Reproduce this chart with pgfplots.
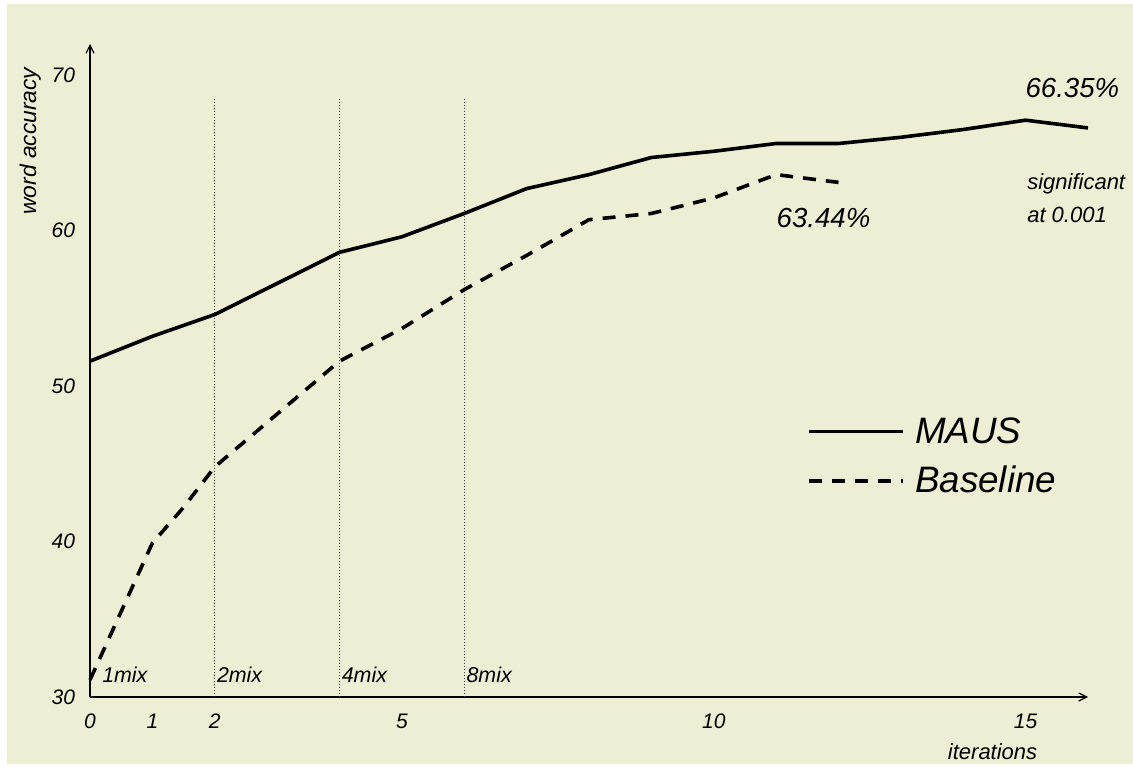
\documentclass[border=0pt]{standalone}
\usepackage{pgfplots}
\pgfplotsset{compat=1.18}
\usetikzlibrary{arrows.meta}
\usepackage{fontspec}
\setmainfont{Liberation Sans}
\definecolor{bg}{RGB}{238,238,213}
\begin{document}
\begin{tikzpicture}
\fill[white] (0,0) rectangle (566.5pt,382pt);
\fill[bg] (3.5pt,0) rectangle (566.5pt,380pt);
\begin{axis}[
  at={(45pt,33.5pt)}, anchor=south west,
  scale only axis, width=499pt, height=326.5pt,
  xmin=0, xmax=16, ymin=30, ymax=72,
  axis x line=bottom, axis y line=left,
  axis line style={line width=0.6pt, -{Straight Barb[length=4pt,width=4pt]}},
  xtick={0,1,2,5,10,15}, ytick={30,40,50,60,70},
  major tick length=0pt,
  tick label style={font=\fontsize{10.5}{12}\selectfont\itshape},
  /pgf/number format/assume math mode=true,
  xticklabel style={yshift=-5pt},
  yticklabel style={xshift=-4pt},
  clip=false,
  legend style={at={(axis cs:11.4,48.4)}, anchor=north west, draw=none, fill=none,
    font=\fontsize{18.4}{22}\selectfont\itshape, row sep=8pt, column sep=4pt,
    nodes={inner sep=1pt}},
  legend cell align=left,
  legend image code/.code={\draw[#1] (0pt,0pt) -- (47pt,0pt);},
]
\addplot[forget plot, densely dotted, black!75, line width=0.5pt] coordinates {(2,30) (2,68.5)};
\addplot[forget plot, densely dotted, black!75, line width=0.5pt] coordinates {(4,30) (4,68.5)};
\addplot[forget plot, densely dotted, black!75, line width=0.5pt] coordinates {(6,30) (6,68.5)};
\addplot[black, line width=1.8pt, line join=round] coordinates {
 (0,51.6) (1,53.2) (2,54.6) (3,56.6) (4,58.6) (5,59.6) (6,61.1) (7,62.7) (8,63.6)
 (9,64.7) (10,65.1) (11,65.6) (12,65.6) (13,66.0) (14,66.5) (15,67.1) (16,66.6)};
\addlegendentry{MAUS}
\addplot[black, line width=1.8pt, line join=round, dash pattern=on 6.5pt off 5pt] coordinates {
 (0,31.1) (1,39.9) (1.5,42.2) (2,44.8) (3,48.2) (4,51.6) (5,53.7) (6,56.2) (7,58.4)
 (8,60.7) (9,61.1) (10,62.1) (11,63.6) (12,63.1)};
\addlegendentry{Baseline}
\node[font=\fontsize{13.8}{16}\selectfont\itshape] at (axis cs:15.75,69.16) {66.35\%};
\node[font=\fontsize{13.8}{16}\selectfont\itshape] at (axis cs:11.76,60.8) {63.44\%};
\node[anchor=west, inner sep=0pt, font=\fontsize{11}{13}\selectfont\itshape] at (axis cs:15.02,63.0) {significant};
\node[anchor=west, inner sep=0pt, font=\fontsize{11}{13}\selectfont\itshape] at (axis cs:15.02,61.0) {at 0.001};
\node[anchor=west, inner sep=0pt, font=\fontsize{10.7}{12}\selectfont\itshape] at (axis cs:0.19,31.45) {1mix};
\node[anchor=west, inner sep=0pt, font=\fontsize{10.7}{12}\selectfont\itshape] at (axis cs:2.03,31.45) {2mix};
\node[anchor=west, inner sep=0pt, font=\fontsize{10.7}{12}\selectfont\itshape] at (axis cs:4.03,31.45) {4mix};
\node[anchor=west, inner sep=0pt, font=\fontsize{10.7}{12}\selectfont\itshape] at (axis cs:6.03,31.45) {8mix};
\node[rotate=90, font=\fontsize{11.4}{13}\selectfont\itshape] at (axis cs:-0.96,65.75) {word accuracy};
\node[font=\fontsize{11}{13}\selectfont\itshape] at (axis cs:14.47,26.46) {iterations};
\end{axis}
\end{tikzpicture}
\end{document}
